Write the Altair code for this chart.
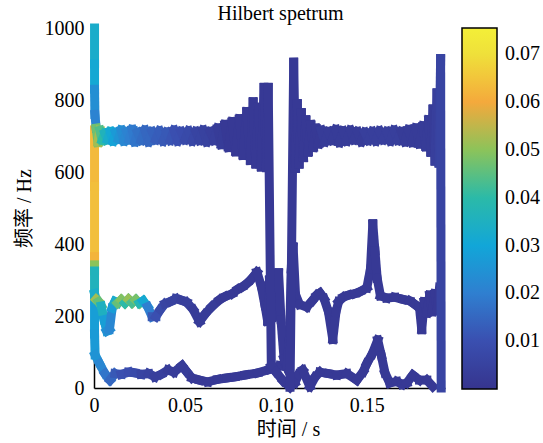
import altair as alt
import pandas as pd

# ---- data: time (s), frequency (Hz), amplitude ----
high_t = [0.0003, 0.0003, 0.0003, 0.0005, 0.0012, 0.0022, 0.0032, 0.0045, 0.0060, 0.0075,
          0.0090, 0.0105, 0.0120, 0.0135, 0.0150, 0.0165, 0.0180, 0.0195, 0.0210, 0.0225,
          0.0240, 0.0260, 0.0280, 0.0300, 0.0320, 0.0340, 0.0360, 0.0380, 0.0400, 0.0420,
          0.0440, 0.0460, 0.0480, 0.0500, 0.0520, 0.0540, 0.0560, 0.0580, 0.0600, 0.0620,
          0.0640, 0.0660, 0.0680, 0.0700, 0.0720, 0.0740, 0.0760, 0.0780, 0.0800, 0.0820,
          0.0840, 0.0860, 0.0875, 0.0890, 0.0905, 0.0920, 0.0935, 0.0948, 0.0958, 0.0975,
          0.1000, 0.1040, 0.1078, 0.1098, 0.1108, 0.1118, 0.1128, 0.1140, 0.1152, 0.1165,
          0.1178, 0.1192, 0.1206, 0.1220, 0.1235, 0.1250, 0.1270, 0.1290, 0.1310, 0.1330,
          0.1350, 0.1370, 0.1390, 0.1410, 0.1430, 0.1450, 0.1470, 0.1490, 0.1510, 0.1530,
          0.1550, 0.1570, 0.1590, 0.1610, 0.1630, 0.1650, 0.1670, 0.1690, 0.1710, 0.1730,
          0.1750, 0.1770, 0.1790, 0.1810, 0.1825, 0.1840, 0.1852, 0.1864, 0.1875, 0.1886,
          0.1897, 0.1906, 0.1909]
high_f = [1000, 900, 830, 760, 722, 682, 716, 688, 708, 690,
          712, 686, 710, 692, 716, 686, 712, 690, 718, 684,
          710, 688, 716, 684, 712, 690, 714, 686, 710, 688,
          716, 686, 712, 690, 714, 686, 712, 688, 716, 684,
          712, 688, 722, 676, 732, 668, 740, 656, 748, 646,
          768, 632, 795, 622, 780, 614, 835, 612, 835, 62,
          45, 20, 2, 905, 610, 790, 622, 765, 640, 745,
          655, 732, 668, 722, 678, 716, 684, 712, 688, 718,
          682, 714, 686, 716, 690, 712, 684, 710, 688, 712,
          686, 714, 690, 712, 686, 716, 688, 712, 684, 718,
          682, 722, 678, 728, 670, 745, 655, 775, 630, 820,
          625, 915, 0]
high_a = [0.033, 0.031, 0.024, 0.021, 0.047, 0.052, 0.044, 0.040, 0.036, 0.033,
          0.031, 0.029, 0.027, 0.025, 0.023, 0.022, 0.021, 0.020, 0.019, 0.018,
          0.017, 0.016, 0.015, 0.015, 0.014, 0.013, 0.013, 0.012, 0.012, 0.011,
          0.010, 0.010, 0.009, 0.008, 0.008, 0.007, 0.006, 0.006, 0.005, 0.005,
          0.004, 0.004, 0.003, 0.003, 0.002, 0.002, 0.002, 0.002, 0.002, 0.002,
          0.002, 0.002, 0.002, 0.002, 0.002, 0.002, 0.002, 0.002, 0.002, 0.002,
          0.002, 0.002, 0.002, 0.002, 0.002, 0.002, 0.002, 0.002, 0.002, 0.002,
          0.002, 0.002, 0.002, 0.002, 0.002, 0.003, 0.003, 0.003, 0.003, 0.003,
          0.003, 0.003, 0.003, 0.003, 0.003, 0.003, 0.003, 0.004, 0.004, 0.004,
          0.004, 0.004, 0.004, 0.004, 0.004, 0.004, 0.004, 0.003, 0.003, 0.003,
          0.003, 0.003, 0.003, 0.003, 0.003, 0.003, 0.003, 0.003, 0.004, 0.004,
          0.005, 0.006, 0.006]

mid_t = [0.0003, 0.0003, 0.0003, 0.0003, 0.0003, 0.0003, 0.0012, 0.0025, 0.0040, 0.0055,
         0.0070, 0.0085, 0.0100, 0.0115, 0.0130, 0.0150, 0.0170, 0.0190, 0.0210, 0.0230,
         0.0250, 0.0270, 0.0295, 0.0320, 0.0340, 0.0365, 0.0390, 0.0420, 0.0450, 0.0480,
         0.0510, 0.0545, 0.0580, 0.0610, 0.0648, 0.0690, 0.0720, 0.0760, 0.0790, 0.0813,
         0.0840, 0.0868, 0.0896, 0.0920, 0.0940, 0.0955, 0.0965, 0.0978, 0.0990, 0.1002,
         0.1015, 0.1028, 0.1045, 0.1062, 0.1075, 0.1085, 0.1095, 0.1108, 0.1130, 0.1170,
         0.1200, 0.1225, 0.1242, 0.1265, 0.1290, 0.1313, 0.1330, 0.1345, 0.1370, 0.1400,
         0.1434, 0.1465, 0.1500, 0.1520, 0.1533, 0.1545, 0.1557, 0.1575, 0.1610, 0.1654,
         0.1700, 0.1736, 0.1765, 0.1790, 0.1802, 0.1816, 0.1830, 0.1846, 0.1860, 0.1875,
         0.1888, 0.1900]
mid_f = [717, 560, 365, 342, 325, 262, 246, 240, 228, 190,
         158, 163, 222, 240, 236, 245, 236, 246, 237, 245,
         236, 242, 226, 198, 198, 218, 234, 240, 248, 244,
         238, 218, 184, 205, 226, 245, 254, 262, 274, 280,
         290, 304, 322, 282, 230, 185, 300, 196, 312, 200,
         320, 190, 82, 62, 140, 330, 392, 260, 232, 225,
         242, 258, 264, 248, 210, 135, 210, 240, 252, 258,
         262, 268, 278, 330, 456, 380, 305, 256, 250, 252,
         246, 242, 232, 222, 162, 240, 208, 258, 212, 262,
         218, 280]
mid_a = [0.063, 0.064, 0.062, 0.050, 0.036, 0.033, 0.052, 0.046, 0.035, 0.028,
         0.024, 0.022, 0.028, 0.033, 0.046, 0.049, 0.040, 0.051, 0.043, 0.048,
         0.038, 0.031, 0.020, 0.012, 0.010, 0.008, 0.006, 0.005, 0.005, 0.004,
         0.004, 0.003, 0.003, 0.003, 0.003, 0.002, 0.002, 0.002, 0.002, 0.002,
         0.002, 0.002, 0.002, 0.002, 0.002, 0.002, 0.002, 0.002, 0.002, 0.002,
         0.002, 0.002, 0.002, 0.002, 0.002, 0.002, 0.002, 0.002, 0.002, 0.002,
         0.002, 0.002, 0.002, 0.002, 0.002, 0.002, 0.002, 0.002, 0.002, 0.002,
         0.002, 0.002, 0.002, 0.002, 0.002, 0.002, 0.002, 0.002, 0.002, 0.002,
         0.002, 0.002, 0.002, 0.002, 0.002, 0.002, 0.002, 0.002, 0.002, 0.002,
         0.002, 0.003]

low_t = [0.0003, 0.0003, 0.0006, 0.0030, 0.0060, 0.0088, 0.0115, 0.0150, 0.0190, 0.0225,
         0.0260, 0.0300, 0.0335, 0.0370, 0.0407, 0.0440, 0.0484, 0.0510, 0.0538, 0.0580,
         0.0626, 0.0680, 0.0730, 0.0775, 0.0830, 0.0901, 0.0967, 0.1022, 0.1060, 0.1077,
         0.1104, 0.1125, 0.1148, 0.1187, 0.1215, 0.1242, 0.1290, 0.1335, 0.1390, 0.1445,
         0.1480, 0.1500, 0.1530, 0.1560, 0.1580, 0.1600, 0.1626, 0.1665, 0.1695, 0.1720,
         0.1753, 0.1790, 0.1830, 0.1863]
low_f = [253, 150, 92, 68, 40, 22, 40, 38, 44, 42,
         38, 40, 31, 38, 50, 44, 62, 45, 28, 22,
         17, 24, 28, 31, 36, 42, 52, 62, 58, 40,
         14, 38, 50, 4, 30, 44, 40, 36, 40, 22,
         45, 68, 95, 133, 90, 42, 14, 18, 10, 14,
         36, 22, 22, 4]
low_a = [0.028, 0.027, 0.025, 0.022, 0.018, 0.015, 0.012, 0.010, 0.009, 0.008,
         0.006, 0.005, 0.004, 0.004, 0.003, 0.003, 0.003, 0.003, 0.002, 0.002,
         0.002, 0.002, 0.002, 0.002, 0.002, 0.002, 0.002, 0.002, 0.002, 0.002,
         0.002, 0.002, 0.002, 0.002, 0.002, 0.002, 0.002, 0.002, 0.002, 0.002,
         0.002, 0.002, 0.002, 0.002, 0.002, 0.002, 0.002, 0.002, 0.002, 0.002,
         0.002, 0.002, 0.002, 0.002]

x_ticks = [0, 0.05, 0.10, 0.15]
y_ticks = [0, 200, 400, 600, 800, 1000]
cbar_ticks = [0.01, 0.02, 0.03, 0.04, 0.05, 0.06, 0.07]
cmap_stops = [0, 0.01, 0.02, 0.03, 0.04, 0.05, 0.06, 0.07, 0.0755]
cmap_colors = ["#36348e", "#3a4fb0", "#2f7fd0", "#12a6d8", "#2bbaa8",
               "#8cc35a", "#f4a93c", "#efe03a", "#f3ef38"]

rows = []
for name, t, f, a in [("low", low_t, low_f, low_a),
                      ("mid", mid_t, mid_f, mid_a),
                      ("high", high_t, high_f, high_a)]:
    for i in range(len(t) - 1):
        rows.append({"trace": name, "t": t[i], "f": f[i],
                     "t2": t[i + 1], "f2": f[i + 1], "amp": a[i]})
df = pd.DataFrame(rows)

SERIF = "Liberation Serif"
FONT = "Liberation Serif, Noto Sans CJK SC"

chart = alt.Chart(df).mark_rule(strokeWidth=9, strokeCap="square").encode(
    x=alt.X("t:Q",
            scale=alt.Scale(domain=[0, 0.193], nice=False, zero=False),
            axis=alt.Axis(values=x_ticks, title="时间 / s", grid=False, ticks=False,
                          labelExpr="datum.value == 0 ? '0' : format(datum.value, '.2f')",
                          labelFlush=False, labelPadding=7, titlePadding=4, titleX=194)),
    x2="t2:Q",
    y=alt.Y("f:Q",
            scale=alt.Scale(domain=[0, 1000], nice=False),
            axis=alt.Axis(values=y_ticks, format="d", title="频率 / Hz", grid=False,
                          ticks=False, labelFlush=False, labelPadding=10, titlePadding=10)),
    y2="f2:Q",
    color=alt.Color("amp:Q",
                    scale=alt.Scale(domain=cmap_stops, range=cmap_colors, interpolate="rgb"),
                    legend=alt.Legend(title=None, values=cbar_ticks, format=".2f",
                                      gradientLength=361, gradientThickness=35,
                                      gradientStrokeColor="black", gradientStrokeWidth=1.5,
                                      labelFontSize=20, labelFont=SERIF, labelColor="black",
                                      labelOffset=8, labelOverlap=False, offset=17)),
).properties(
    width=351, height=360,
    title=alt.TitleParams("Hilbert spetrum", font=SERIF, fontSize=20, fontWeight="normal",
                          color="black", anchor="middle", dx=11, dy=22, offset=0,
                          baseline="alphabetic", frame="group"),
    autosize=alt.AutoSizeParams(type="none"),
    padding={"left": 94, "top": 28, "right": 98, "bottom": 55},
).configure_view(stroke=None).configure_axis(
    domainColor="black", domainWidth=1.5,
    labelFont=SERIF, labelFontSize=20, labelColor="black",
    titleFont=FONT, titleFontSize=20, titleColor="black", titleFontWeight="normal",
)

chart.save("out.html", embed_options={"renderer": "svg", "actions": False})
